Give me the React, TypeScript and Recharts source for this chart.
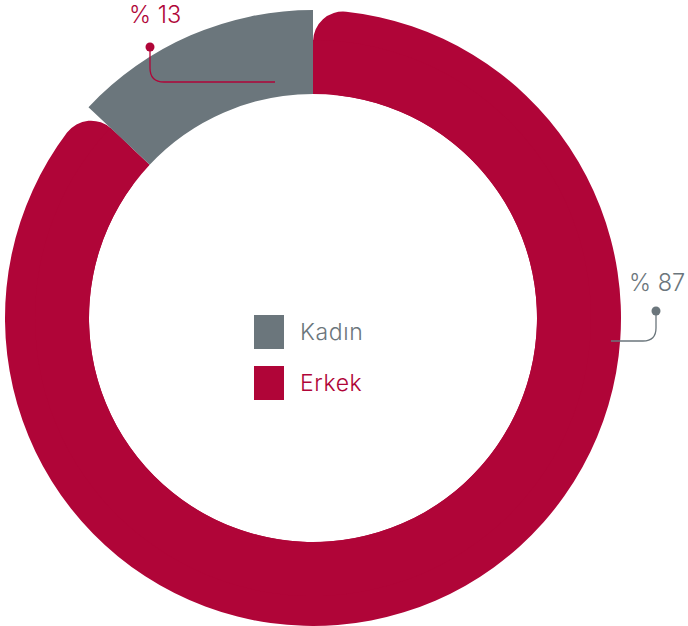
import React from 'react';
import { PieChart, Pie, Cell, Legend } from 'recharts';

// values
const categories = ['Kadın', 'Erkek'];
const shares = [13, 87];
const colors = ['#6b767c', '#b00538'];

const pieData = categories.map((name, i) => ({ name, value: shares[i] }));

const CX = 313;
const CY = 318;
const INNER = 224;
const OUTER = 308;
const CORNER = 30;
const FONT = 'Inter, Roboto, sans-serif';

function CenterLegend() {
    return (
        <div style={{ display: 'flex', flexDirection: 'column', gap: 17 }}>
            {categories.map((c, i) => (
                <div key={c} style={{ display: 'flex', alignItems: 'center' }}>
                    <span style={{ width: 30, height: 34, background: colors[i], display: 'inline-block' }} />
                    <span style={{ marginLeft: 16, fontSize: 23, fontWeight: 300, letterSpacing: 0.6, color: colors[i], fontFamily: FONT }}>{c}</span>
                </div>
            ))}
        </div>
    );
}

export default function App() {
    return (
        <div style={{ position: 'absolute', left: 0, top: 0, width: 688, height: 626 }}>
            <PieChart width={688} height={626} margin={{ top: 0, right: 0, bottom: 0, left: 0 }}>
                {/* Erkek with rounded corners */}
                <Pie data={pieData} dataKey="value" cx={CX} cy={CY} innerRadius={INNER} outerRadius={OUTER}
                    startAngle={90} endAngle={450} cornerRadius={CORNER} stroke="none" isAnimationActive={false}>
                    <Cell fill="transparent" />
                    <Cell fill={colors[1]} />
                </Pie>
                {/* sharp inner corners for Erkek */}
                <Pie data={pieData} dataKey="value" cx={CX} cy={CY} innerRadius={INNER} outerRadius={OUTER - CORNER}
                    startAngle={90} endAngle={450} stroke="none" isAnimationActive={false}>
                    <Cell fill="transparent" />
                    <Cell fill={colors[1]} />
                </Pie>
                {/* Kadın on top, sharp */}
                <Pie data={pieData} dataKey="value" cx={CX} cy={CY} innerRadius={INNER} outerRadius={OUTER}
                    startAngle={90} endAngle={450} stroke="none" isAnimationActive={false}>
                    <Cell fill={colors[0]} />
                    <Cell fill="transparent" />
                </Pie>
                <Legend content={() => <CenterLegend />} wrapperStyle={{ position: 'absolute', left: 254, top: 315, width: 200 }} />
            </PieChart>
            <svg width={688} height={626} style={{ position: 'absolute', left: 0, top: 0, pointerEvents: 'none' }}>
                {/* Kadın label */}
                <text x={129} y={23} fontSize={23.5} fontWeight={300} fill={colors[1]} fontFamily={FONT}>% {shares[0]}</text>
                <circle cx={150} cy={47} r={4.5} fill={colors[1]} />
                <path d="M150 47 V68 Q150 82 164 82 H275" stroke={colors[1]} strokeWidth={1.3} fill="none" />
                {/* Erkek label */}
                <text x={629} y={291} fontSize={23.5} fontWeight={300} fill={colors[0]} fontFamily={FONT}>% {shares[1]}</text>
                <circle cx={656} cy={311} r={4.5} fill={colors[0]} />
                <path d="M656 311 V328 Q656 341 643 341 H611" stroke={colors[0]} strokeWidth={1.3} fill="none" />
            </svg>
        </div>
    );
}
